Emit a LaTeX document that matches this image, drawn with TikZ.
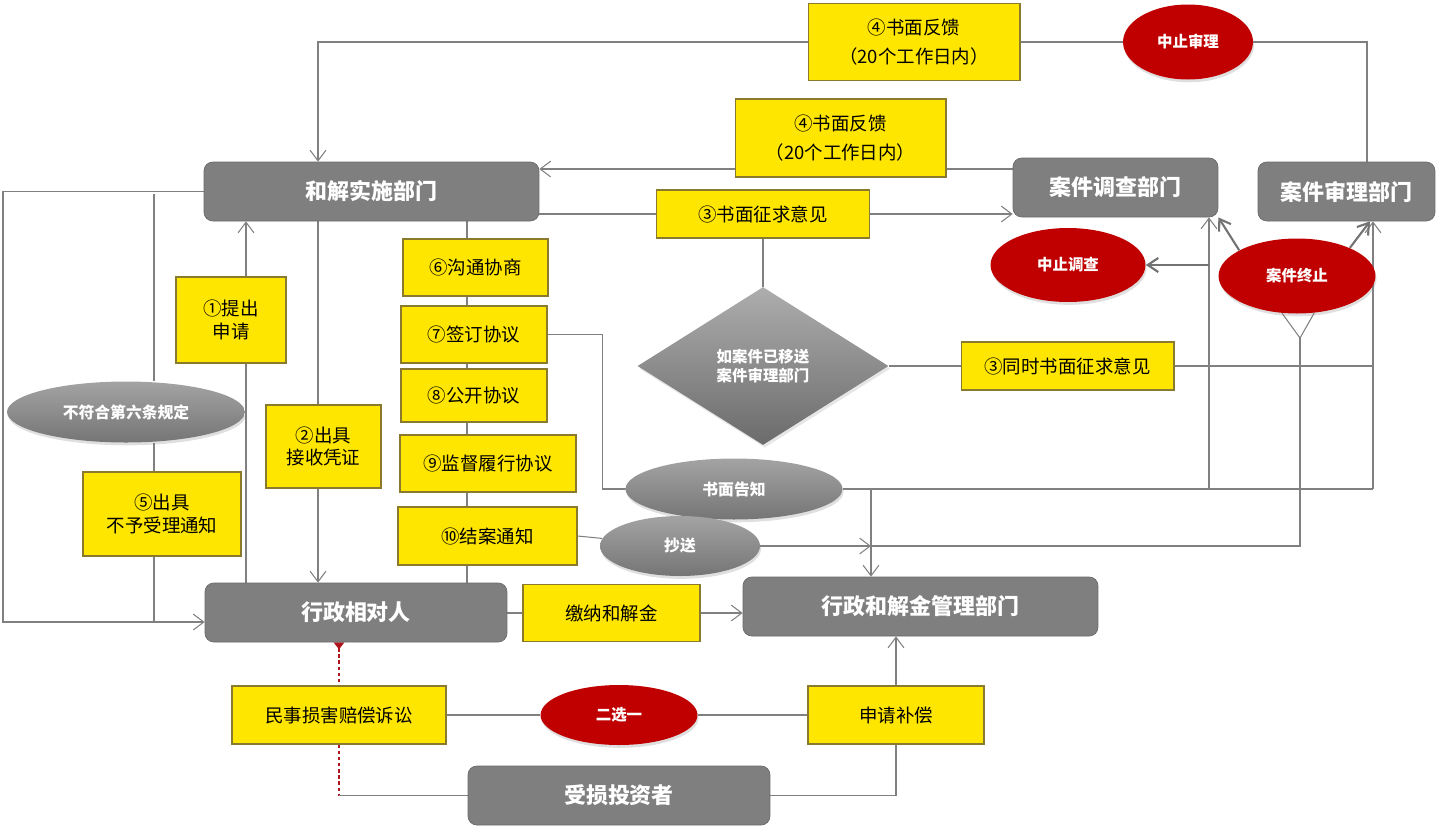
\documentclass[tikz,border=0pt]{standalone}
\usepackage{fontspec}
\setmainfont{Noto Sans CJK SC}
\usepackage{tikz}
\usetikzlibrary{shapes.geometric, arrows.meta, positioning, calc, backgrounds, shadows}
\usepackage{xcolor}
\definecolor{boxgray}{HTML}{7F7F7F}
\definecolor{boxedge}{HTML}{6A6A6A}
\definecolor{yel}{HTML}{FFE600}
\definecolor{yedge}{HTML}{8A7A2E}
\definecolor{crimson}{HTML}{C00000}
\definecolor{lgray}{HTML}{808080}
\definecolor{dashred}{HTML}{B0141C}

\tikzset{
  gbox/.style={draw=boxedge, fill=boxgray, rounded corners=5pt, text=white, inner sep=0pt,
    minimum height=1.18cm, font=\fontsize{12.5}{15}\selectfont\bfseries},
  ybox/.style={draw=yedge, fill=yel, line width=0.6pt, align=center, inner sep=0pt,
    font=\fontsize{10.5}{13}\selectfont},
  fkfont/.style={font=\fontsize{10.5}{16.5}\selectfont},
  redell/.style={ellipse, fill=crimson, text=white, inner sep=0pt,
    font=\fontsize{8.8}{11}\selectfont\bfseries,
    drop shadow={opacity=0.25, shadow xshift=0.6pt, shadow yshift=-1.6pt}},
  grell/.style={ellipse, top color=black!36, bottom color=black!54, text=white, inner sep=0pt,
    font=\fontsize{9}{11}\selectfont\bfseries,
    drop shadow={opacity=0.25, shadow xshift=0.6pt, shadow yshift=-1.6pt}},
  dmd/.style={diamond, minimum width=5.02cm, minimum height=3.16cm, inner sep=0pt,
    top color=black!32, bottom color=black!58, text=white, align=center,
    font=\fontsize{8.8}{11}\selectfont\bfseries,
    drop shadow={opacity=0.2, shadow xshift=1pt, shadow yshift=-1.5pt}},
  conn/.style={draw=lgray, line width=0.6pt},
  arr/.style={conn, -{Straight Barb[length=6pt, width=9pt]}},
  thk/.style={draw=black!55, line width=1.2pt, -{Straight Barb[length=6pt, width=8pt]}},
  reddash/.style={draw=dashred, line width=0.7pt, dash pattern=on 2pt off 1.5pt},
}

\begin{document}
\begin{tikzpicture}[x=0.02cm, y=-0.02cm]
\useasboundingbox (0,0) rectangle (1437,826);

\node[gbox, minimum width=6.70cm] (hj) at (371.5,191.5) {和解实施部门};
\node[gbox, minimum width=4.10cm] (dc) at (1115.5,187.5) {案件调查部门};
\node[gbox, minimum width=3.54cm] (sl) at (1346.5,191.5) {案件审理部门};
\node[gbox, minimum width=6.04cm] (xz) at (356,612.5) {行政相对人};
\node[gbox, minimum width=7.10cm] (gl) at (920.5,606.5) {行政和解金管理部门};
\node[gbox, minimum width=6.04cm] (ss) at (619,795.5) {受损投资者};

\node[ybox, fkfont, minimum width=4.24cm, minimum height=1.54cm] (fk1) at (914,42) {④书面反馈\\（20个工作日内）};
\node[ybox, fkfont, minimum width=4.22cm, minimum height=1.56cm] (fk2) at (840.5,138) {④书面反馈\\（20个工作日内）};
\node[ybox, minimum width=4.26cm, minimum height=0.96cm] (zq) at (763,214) {③书面征求意见};
\node[ybox, minimum width=2.90cm, minimum height=1.14cm] (gt) at (475.5,267.5) {⑥沟通协商};
\node[ybox, minimum width=2.92cm, minimum height=1.14cm] (qd) at (474,334.5) {⑦签订协议};
\node[ybox, minimum width=2.92cm, minimum height=1.06cm] (gk) at (474,395.5) {⑧公开协议};
\node[ybox, minimum width=3.52cm, minimum height=1.14cm] (jd) at (488,463.5) {⑨监督履行协议};
\node[ybox, minimum width=3.58cm, minimum height=1.16cm] (ja) at (487.5,536) {⑩结案通知};
\node[ybox, minimum width=2.20cm, minimum height=1.72cm] (tc) at (231,320) {①提出\\申请};
\node[ybox, minimum width=2.30cm, minimum height=1.66cm] (jp) at (323.5,446.5) {②出具\\接收凭证};
\node[ybox, minimum width=3.16cm, minimum height=1.68cm] (bs) at (162,514) {⑤出具\\不予受理通知};
\node[ybox, minimum width=4.26cm, minimum height=0.96cm] (tszq) at (1067.5,366) {③同时书面征求意见};
\node[ybox, minimum width=3.54cm, minimum height=1.14cm] (jn) at (611.5,613) {缴纳和解金};
\node[ybox, minimum width=4.28cm, minimum height=1.16cm] (ms) at (339,715) {民事损害赔偿诉讼};
\node[ybox, minimum width=3.52cm, minimum height=1.16cm] (sq) at (896,715) {申请补偿};

\node[redell, minimum width=2.60cm, minimum height=1.50cm] (zsl) at (1188,42) {中止审理};
\node[redell, minimum width=3.10cm, minimum height=1.48cm] (zdc) at (1068,265) {中止调查};
\node[redell, minimum width=3.14cm, minimum height=1.50cm] (zz) at (1297,276) {案件终止};
\node[redell, minimum width=3.14cm, minimum height=1.20cm] (exy) at (619,715) {二选一};
\node[grell, minimum width=4.76cm, minimum height=1.22cm] (bfh) at (126,412) {不符合第六条规定};
\node[grell, minimum width=4.34cm, minimum height=1.22cm] (gz) at (734,489) {书面告知};
\node[grell, minimum width=3.20cm, minimum height=1.20cm] (cs) at (680,546) {抄送};
\node[dmd] (dm) at (763,366) {如案件已移送\\案件审理部门};

\begin{scope}[on background layer]
  \coordinate (t1) at (1367,42);
  \coordinate (r2) at (0,169);
  \coordinate (c1) at (1373,366);
  \coordinate (c2) at (1209,265);
  \coordinate (c3) at (1209,489);
  \coordinate (c4) at (1373,489);
  \coordinate (m1) at (871,489);
  \coordinate (m2) at (871,546);
  \coordinate (v) at (1300,338);
  \coordinate (l1) at (3,191.5);
  \coordinate (l2) at (3,622);
  \coordinate (l3) at (154,194);
  \coordinate (l4) at (154,622);
  \coordinate (k1) at (246,0);
  \coordinate (k2) at (318,0);
  \coordinate (k3) at (467,0);

  \draw[conn] (sl.north -| t1) -- (t1) -- (zsl.east);
  \draw[conn] (zsl.west) -- (fk1.east);
  \draw[arr] (fk1.west) -| (hj.north -| k2);
  \draw[arr] (dc.west |- r2) -- (hj.east |- r2);
  \draw[conn] (hj.east |- zq) -- (zq.west);
  \draw[arr] (zq.east) -- (dc.west |- zq);
  \draw[conn] (zq.south) -- (dm.north);
  \draw[conn] (dm.east) -- (tszq.west);
  \draw[conn] (tszq.east) -- (c1);
  \draw[arr] (c4) -- (sl.south -| c4);
  \draw[arr] (c3) -- (dc.south -| c3);
  \draw[thk] (c2) -- (zdc.east);
  \draw[conn] (gz.east) -- (c4);
  \draw[conn] (qd.east) -- ++(55,0) |- (gz.west);
  \draw[arr] (m1) -- (gl.north -| m1);
  \draw[conn] (ja.east) -- (cs);
  \draw[arr] (cs.east) -- (m2);
  \draw[conn] (zz.-112) -- (v) -- (zz.-65);
  \draw[conn] (v) |- (m2);
  \draw[thk] (zz.156) -- (dc.south east);
  \draw[thk] (zz.28) -- ([xshift=0.47cm]sl.south);

  \draw[arr] (hj.west) -- (l1) -- (l2) -- (xz.west |- l2);
  \draw[conn] (l3) -- (bfh.north -| l3);
  \draw[conn] (bfh.south -| l3) -- (bs.north -| l3);
  \draw[conn] (bs.south -| l3) -- (l4);
  \draw[arr] (xz.north -| k1) -- (hj.south -| k1);
  \draw[arr] (hj.south -| k2) -- (xz.north -| k2);
  \draw[conn] (hj.south -| k3) -- (xz.north -| k3);

  \draw[conn] (xz.east |- jn) -- (jn.west);
  \draw[arr] (jn.east) -- (gl.west |- jn);
  \draw[reddash, {Triangle[reversed, length=4pt, width=6pt]}-] (xz.south -| ms) -- (ms.north);
  \draw[reddash] (ms.south) -- (ms.south |- ss);
  \draw[conn] (ms.south |- ss) -- (ss.west);
  \draw[conn] (ms.east) -- (exy.west);
  \draw[conn] (exy.east) -- (sq.west);
  \draw[conn] (ss.east) -| (sq.south);
  \draw[arr] (sq.north) -- (gl.south -| sq);
\end{scope}
\end{tikzpicture}
\end{document}
